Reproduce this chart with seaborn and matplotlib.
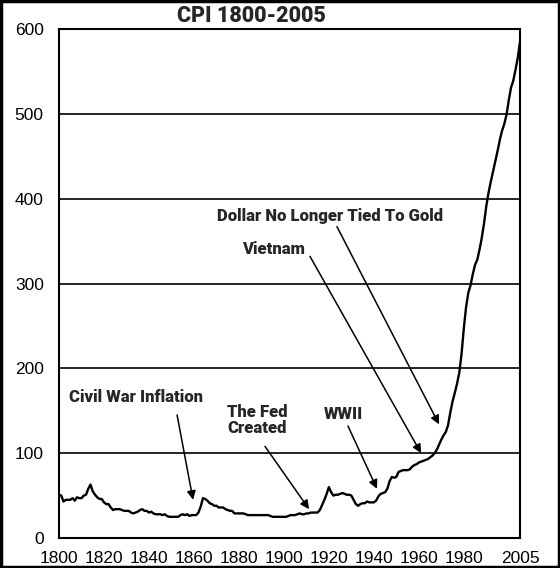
import numpy as np
import pandas as pd
import matplotlib
matplotlib.use("Agg")
import matplotlib.pyplot as plt
import seaborn as sns
from matplotlib.patches import Rectangle

# CPI index (1967 = 100)
years = list(range(1800, 2006))
cpi = [
    51, 50, 43, 45, 45, 45, 47, 44, 48, 47,
    47, 50, 51, 58, 63, 55, 51, 48, 46, 46,
    42, 40, 40, 36, 33, 34, 34, 34, 33, 32,
    32, 32, 30, 29, 30, 31, 33, 34, 32, 32,
    30, 31, 29, 28, 28, 28, 27, 28, 26, 25,
    25, 25, 25, 25, 27, 28, 27, 28, 26, 27,
    27, 27, 30, 37, 47, 46, 44, 41, 40, 38,
    38, 36, 36, 36, 34, 33, 32, 32, 29, 29,
    29, 29, 29, 28, 27, 27, 27, 27, 27, 27,
    27, 27, 27, 27, 26, 25, 25, 25, 25, 25,
    25, 25, 26, 27, 27, 27, 28, 29, 28, 28,
    29, 29, 30, 30, 30, 30, 33, 39, 45, 52,
    60, 54, 50, 51, 51, 52, 53, 52, 51, 51,
    50, 45, 40, 38, 40, 41, 41, 43, 42, 42,
    42, 44, 49, 52, 53, 54, 58, 67, 72, 71,
    72, 78, 79, 80, 80, 80, 81, 84, 86, 87,
    89, 90, 91, 92, 93, 95, 97, 100, 104, 110,
    116, 121, 125, 133, 148, 161, 171, 182, 195, 217,
    247, 272, 289, 298, 311, 322, 328, 340, 354, 371,
    391, 407, 420, 432, 444, 456, 469, 480, 488, 499,
    516, 531, 539, 552, 566, 585,
]
xtick_years = [1800, 1820, 1840, 1860, 1880, 1900, 1920, 1940, 1960, 1980, 2005]

# annotations: label, text position, arrow start, arrow tip
notes = [
    ("Civil War Inflation", (1834.2, 166), (1852.5, 145), (1859.6, 45)),
    ("The Fed\nCreated", (1888.0, 139), (1891.6, 108), (1911.2, 34)),
    ("WWII", (1926.3, 146), (1928.5, 132), (1941.4, 58)),
    ("Vietnam", (1895.4, 341), (1911.6, 332), (1961.0, 100)),
    ("Dollar No Longer Tied To Gold", (1920.7, 380), (1923.6, 367), (1969.0, 134)),
]

df = pd.DataFrame({"Year": years, "CPI": cpi})

sns.set_style("white")
plt.rcParams["font.family"] = ["Liberation Sans", "DejaVu Sans"]

fig = plt.figure(figsize=(5.6, 5.68), dpi=100)
ax = fig.add_axes([0.1054, 0.0528, 0.8232, 0.8961])

sns.lineplot(data=df, x="Year", y="CPI", color="black", linewidth=1.7, ax=ax)

ax.set_xlim(1800, 2005)
ax.set_ylim(0, 600)
ax.set_xticks(xtick_years)
ax.set_xticks(range(1800, 2006), minor=True)
ax.set_yticks(range(0, 601, 100))
ax.set_xlabel("")
ax.set_ylabel("")
ax.yaxis.grid(True, color="black", linewidth=1.2)
ax.xaxis.grid(False)
ax.tick_params(axis="both", which="major", direction="out", length=7, width=1.2,
               color="black", labelsize=12.5, labelcolor="black", pad=2)
ax.tick_params(axis="x", which="minor", direction="out", length=5, width=0.6, color="black")
ax.tick_params(axis="y", which="major", pad=4)
for s in ax.spines.values():
    s.set_color("black")
    s.set_linewidth(1.5)

for label, txt, start, tip in notes:
    ax.text(txt[0], txt[1], label, ha="center", va="center", fontsize=12,
            fontweight=900, family=["Roboto", "DejaVu Sans"], linespacing=1.0)
    ax.annotate("", xy=tip, xytext=start,
                arrowprops=dict(arrowstyle="-|>", color="black", lw=1.1,
                                mutation_scale=13, shrinkA=0, shrinkB=0))

fig.text(0.449, 0.972, "CPI 1800-2005", ha="center", va="center", fontsize=15.5,
         fontweight=900, family=["Roboto", "DejaVu Sans"])

fig.patches.append(Rectangle((0.002, 0.002), 0.996, 0.996, transform=fig.transFigure,
                             fill=False, edgecolor="black", linewidth=2.5))

fig.savefig("out.png", dpi=100)
